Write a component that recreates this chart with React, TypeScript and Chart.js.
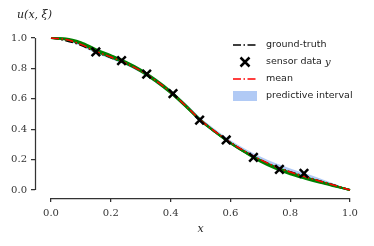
import React, { useEffect, useRef } from "react";
import { Chart, registerables } from "chart.js";
Chart.register(...registerables);

const xGrid = [0, 0.05, 0.1, 0.15, 0.2, 0.25, 0.3, 0.35, 0.4, 0.45, 0.5, 0.55, 0.6, 0.65, 0.7, 0.75, 0.8, 0.85, 0.9, 0.95, 1.0];
const groundTruth = [1.0, 0.982, 0.952, 0.908, 0.87, 0.832, 0.783, 0.72, 0.645, 0.556, 0.462, 0.383, 0.313, 0.252, 0.199, 0.155, 0.12, 0.089, 0.06, 0.031, 0.0];
const meanU = [1.0, 0.99, 0.958, 0.912, 0.875, 0.835, 0.785, 0.72, 0.645, 0.555, 0.46, 0.383, 0.313, 0.253, 0.2, 0.155, 0.118, 0.087, 0.058, 0.03, 0.0];
const upperU = [1.0, 0.997, 0.97, 0.926, 0.889, 0.849, 0.8, 0.735, 0.66, 0.57, 0.475, 0.398, 0.328, 0.27, 0.22, 0.177, 0.142, 0.11, 0.076, 0.04, 0.0];
const lowerU = [1.0, 0.984, 0.948, 0.9, 0.862, 0.822, 0.771, 0.706, 0.631, 0.541, 0.447, 0.37, 0.3, 0.24, 0.186, 0.142, 0.105, 0.075, 0.048, 0.023, 0.0];
const sampleA = [1.0, 0.997, 0.972, 0.927, 0.887, 0.844, 0.792, 0.726, 0.65, 0.56, 0.463, 0.382, 0.308, 0.245, 0.187, 0.141, 0.104, 0.074, 0.047, 0.023, 0.0];
const sampleB = [1.0, 0.994, 0.966, 0.919, 0.879, 0.837, 0.785, 0.719, 0.643, 0.553, 0.457, 0.38, 0.308, 0.247, 0.193, 0.148, 0.111, 0.081, 0.053, 0.026, 0.0];
const sampleC = [1.0, 0.99, 0.961, 0.913, 0.873, 0.832, 0.781, 0.714, 0.638, 0.549, 0.455, 0.38, 0.311, 0.251, 0.197, 0.152, 0.115, 0.085, 0.056, 0.028, 0.0];
const sensorX = [0.15, 0.236, 0.32, 0.408, 0.497, 0.586, 0.677, 0.764, 0.846];
const sensorY = [0.908, 0.851, 0.763, 0.634, 0.46, 0.329, 0.215, 0.136, 0.11];
const tickValues = [0, 0.2, 0.4, 0.6, 0.8, 1.0];

const SERIF = "'DejaVu Serif', 'Liberation Serif', serif";
const SANS = "'DejaVu Sans', sans-serif";
const DASHDOT = [8, 2.5, 1.5, 2.5];

const pts = (ys: number[]) => xGrid.map((x, i) => ({ x, y: ys[i] }));

const decorPlugin = {
  id: "decor",
  afterDraw(chart: any) {
    const ctx = chart.ctx;
    const xs = chart.scales.x;
    const ys = chart.scales.y;
    ctx.save();
    ctx.strokeStyle = "#333";
    ctx.lineWidth = 1.25;
    ctx.setLineDash([]);
    const yAxisX = Math.round(chart.chartArea.left) + 0.5;
    ctx.beginPath();
    ctx.moveTo(yAxisX, ys.getPixelForValue(1));
    ctx.lineTo(yAxisX, ys.getPixelForValue(0));
    ctx.stroke();
    const xAxisY = Math.round(chart.chartArea.bottom) + 0.5;
    ctx.beginPath();
    ctx.moveTo(xs.getPixelForValue(0), xAxisY);
    ctx.lineTo(xs.getPixelForValue(1), xAxisY);
    ctx.stroke();

    ctx.fillStyle = "#222";
    ctx.font = `italic 11px ${SERIF}`;
    ctx.textBaseline = "middle";
    ctx.textAlign = "left";
    ctx.fillText("u(x, ξ)", 17, 15);
    ctx.textAlign = "center";
    ctx.fillText("x", (xs.getPixelForValue(0) + xs.getPixelForValue(1)) / 2, 229);

    const lx0 = 233, lx1 = 257, tx = 266;
    const rows = [45, 62, 79, 96];
    ctx.font = `9.5px ${SANS}`;
    ctx.textAlign = "left";
    ctx.fillStyle = "#222";
    ctx.strokeStyle = "#000";
    ctx.lineWidth = 1.5;
    ctx.setLineDash(DASHDOT);
    ctx.beginPath();
    ctx.moveTo(lx0, rows[0]);
    ctx.lineTo(lx1, rows[0]);
    ctx.stroke();
    ctx.fillText("ground-truth", tx, rows[0]);
    ctx.setLineDash([]);
    ctx.lineWidth = 2.5;
    const cx = (lx0 + lx1) / 2, r = 4.5;
    ctx.beginPath();
    ctx.moveTo(cx - r, rows[1] - r);
    ctx.lineTo(cx + r, rows[1] + r);
    ctx.moveTo(cx + r, rows[1] - r);
    ctx.lineTo(cx - r, rows[1] + r);
    ctx.stroke();
    const s1 = "sensor data ";
    ctx.fillText(s1, tx, rows[1]);
    const w1 = ctx.measureText(s1).width;
    ctx.font = `italic 10px ${SERIF}`;
    ctx.fillText("y", tx + w1, rows[1]);
    ctx.font = `9.5px ${SANS}`;
    ctx.strokeStyle = "#ff0000";
    ctx.lineWidth = 1.5;
    ctx.setLineDash(DASHDOT);
    ctx.beginPath();
    ctx.moveTo(lx0, rows[2]);
    ctx.lineTo(lx1, rows[2]);
    ctx.stroke();
    ctx.fillText("mean", tx, rows[2]);
    ctx.setLineDash([]);
    ctx.fillStyle = "rgba(100,150,235,0.5)";
    ctx.fillRect(lx0, rows[3] - 5, lx1 - lx0, 10);
    ctx.fillStyle = "#222";
    ctx.fillText("predictive interval", tx, rows[3]);
    ctx.restore();
  },
};

export default function App() {
  const ref = useRef<HTMLCanvasElement>(null);
  useEffect(() => {
    document.body.style.margin = "0";
    const canvas = ref.current!;
    const tickCommon = {
      color: "#333",
      font: { family: SERIF, size: 10 },
      callback: (v: any) => Number(v).toFixed(1),
    };
    const gridCommon = {
      display: true,
      drawOnChartArea: false,
      drawTicks: true,
      tickLength: 4,
      color: "#333",
      lineWidth: 1.25,
    };
    const chart = new Chart(canvas, {
      type: "line",
      data: {
        datasets: [
          {
            label: "upper",
            data: pts(upperU),
            borderColor: "rgba(0,0,0,0)",
            borderWidth: 0,
            pointRadius: 0,
            fill: false,
            order: 6,
            cubicInterpolationMode: "monotone",
          },
          {
            label: "predictive interval",
            data: pts(lowerU),
            borderColor: "rgba(0,0,0,0)",
            borderWidth: 0,
            pointRadius: 0,
            backgroundColor: "rgba(100,150,235,0.5)",
            fill: "-1",
            order: 5,
            cubicInterpolationMode: "monotone",
          },
          ...[sampleA, sampleB, sampleC].map((s, i) => ({
            label: "sample" + i,
            data: pts(s),
            borderColor: "#008000",
            borderWidth: 2,
            pointRadius: 0,
            fill: false,
            order: 3,
            cubicInterpolationMode: "monotone" as const,
          })),
          {
            label: "ground-truth",
            data: pts(groundTruth),
            borderColor: "#000",
            borderWidth: 1.5,
            borderDash: DASHDOT,
            pointRadius: 0,
            fill: false,
            order: 4,
            cubicInterpolationMode: "monotone",
          },
          {
            label: "mean",
            data: pts(meanU),
            borderColor: "#ff0000",
            borderWidth: 1.5,
            borderDash: DASHDOT,
            pointRadius: 0,
            fill: false,
            order: 1,
            cubicInterpolationMode: "monotone",
          },
          {
            type: "scatter",
            label: "sensor data y",
            data: sensorX.map((x, i) => ({ x, y: sensorY[i] })),
            pointStyle: "crossRot",
            pointRadius: 6,
            borderColor: "#000",
            backgroundColor: "#000",
            borderWidth: 2.5,
            showLine: false,
            order: 0,
          },
        ] as any,
      },
      options: {
        responsive: false,
        animation: false,
        clip: false as any,
        layout: { padding: { left: 0, top: 38, right: 24, bottom: 0 } },
        plugins: { legend: { display: false }, tooltip: { enabled: false } },
        scales: {
          x: {
            type: "linear",
            min: -0.0535,
            max: 1.0,
            afterBuildTicks: (s: any) => {
              s.ticks = tickValues.map((value) => ({ value }));
            },
            afterFit: (s: any) => {
              s.height = 48;
            },
            ticks: { ...tickCommon, padding: 5, maxRotation: 0 },
            grid: gridCommon,
            border: { display: false },
          },
          y: {
            type: "linear",
            min: -0.0526,
            max: 1.0,
            afterBuildTicks: (s: any) => {
              s.ticks = tickValues.map((value) => ({ value }));
            },
            afterFit: (s: any) => {
              s.width = 35;
            },
            ticks: { ...tickCommon, padding: 4 },
            grid: gridCommon,
            border: { display: false },
          },
        },
      },
      plugins: [decorPlugin],
    });
    return () => chart.destroy();
  }, []);
  return <canvas ref={ref} width={374} height={246} style={{ display: "block" }} />;
}
